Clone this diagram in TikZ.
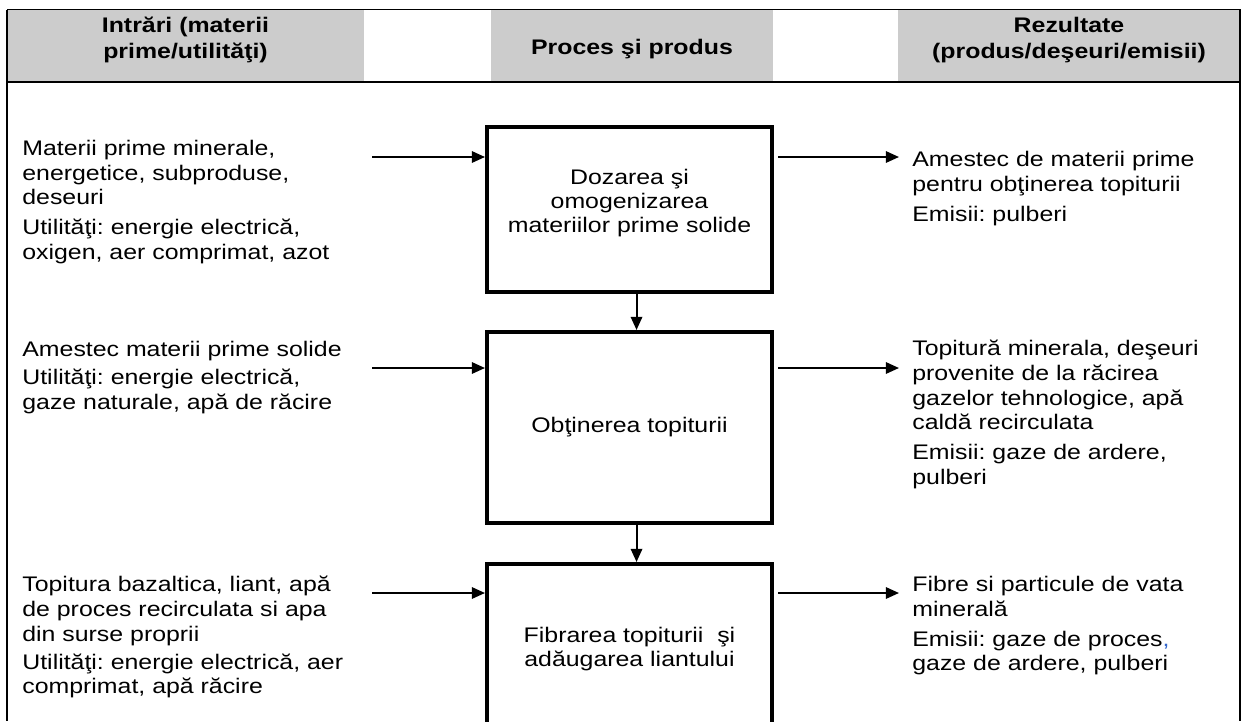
\documentclass[tikz,border=0pt]{standalone}
\usepackage{fontspec}
\setmainfont{Liberation Sans}[FakeStretch=1.18]
\usetikzlibrary{arrows.meta,positioning}
\frenchspacing

\definecolor{hdrgray}{RGB}{204,204,204}
\definecolor{commablue}{RGB}{51,102,204}

\tikzset{
  rule/.style={line width=0.9pt},
  head/.style={font=\bfseries\fontsize{12}{14.5}\selectfont, align=center, inner sep=0pt},
  txt/.style={font=\fontsize{12}{14}\selectfont, align=left, anchor=north west, inner sep=0pt},
  proc/.style={draw, line width=2.3pt, minimum width=5.7cm, align=center,
    font=\fontsize{12}{13.8}\selectfont},
  arr/.style={-{Triangle[length=7.5pt,width=6.5pt]}, line width=1.1pt},
}

\begin{document}
\begin{tikzpicture}[x=0.02cm,y=-0.02cm]
  \useasboundingbox (0,0) rectangle (1241,721);
  \clip (0,0) rectangle (1241,721);
  % header row
  \fill[hdrgray] (7,9.5) rectangle (364,82);
  \fill[hdrgray] (491,9.5) rectangle (773,82);
  \fill[hdrgray] (898,9.5) rectangle (1240,82);
  \draw[rule] (7,9.5) -- (1241,9.5);
  \draw[rule] (7,82) -- (1241,82);
  \draw[rule] (7,9.5) -- (7,721);
  \draw[rule] (1240,9.5) -- (1240,721);
  \node[head, anchor=north] (hIn) at (185.5,17) {Intrări (materii\\prime/utilităţi)};
  \node[head, anchor=base] (hProc) at (632,54) {Proces şi produs};
  \node[head, anchor=north] (hOut) at (1069,17) {Rezultate\\(produs/deşeuri/emisii)};

  % process boxes
  \node[proc, minimum height=3.3cm] (dozare) at (629.5,209.5)
    {Dozarea şi\\omogenizarea\\materiilor prime solide\\[-4pt]\mbox{}};
  \node[proc, minimum height=3.82cm, below=0.72cm of dozare] (topire)
    {Obţinerea topiturii};
  \node[proc, minimum height=3.4cm, below=0.74cm of topire] (fibrare)
    {Fibrarea topiturii\ \ şi\\adăugarea liantului};

  % inputs
  \node[txt] (inA) at (22,140) {Materii prime minerale,\\energetice, subproduse,\\deseuri\\[3pt]
    Utilităţi: energie electrică,\\oxigen, aer comprimat, azot};
  \node[txt] (inB) at (22,341) {Amestec materii prime solide\\[2pt]
    Utilităţi: energie electrică,\\gaze naturale, apă de răcire};
  \node[txt] (inC) at (22,576) {Topitura bazaltica, liant, apă\\de proces recirculata si apa\\din surse proprii\\[2pt]
    Utilităţi: energie electrică, aer\\comprimat, apă răcire};

  % outputs
  \node[txt] (outA) at (912,151) {Amestec de materii prime\\pentru obţinerea topiturii\\[3pt]
    Emisii: pulberi};
  \node[txt] (outB) at (912,340) {Topitură minerala, deşeuri\\provenite de la răcirea\\gazelor tehnologice, apă\\caldă recirculata\\[3pt]
    Emisii: gaze de ardere,\\pulberi};
  \node[txt] (outC) at (912,576) {Fibre si particule de vata\\minerală\\[3pt]
    Emisii: gaze de proces\textcolor{commablue}{,}\\gaze de ardere, pulberi};

  % arrow ends
  \coordinate (i1) at (372,157);
  \coordinate (i2) at (372,368);
  \coordinate (i3) at (372,593);
  \coordinate (o1) at (899,157);
  \coordinate (o2) at (899,368);
  \coordinate (o3) at (899,593);

  \draw[arr] (i1) -- (i1 -| dozare.west);
  \draw[arr] (i2) -- (i2 -| topire.west);
  \draw[arr] (i3) -- (i3 -| fibrare.west);
  \draw[arr, shorten <=2.5pt] (dozare.east |- o1) -- (o1);
  \draw[arr, shorten <=2.5pt] (topire.east |- o2) -- (o2);
  \draw[arr, shorten <=2.5pt] (fibrare.east |- o3) -- (o3);
  \draw[arr] ([xshift=4pt]dozare.south) -- ([xshift=4pt]topire.north);
  \draw[arr] ([xshift=4pt]topire.south) -- ([xshift=4pt]fibrare.north);
\end{tikzpicture}
\end{document}
